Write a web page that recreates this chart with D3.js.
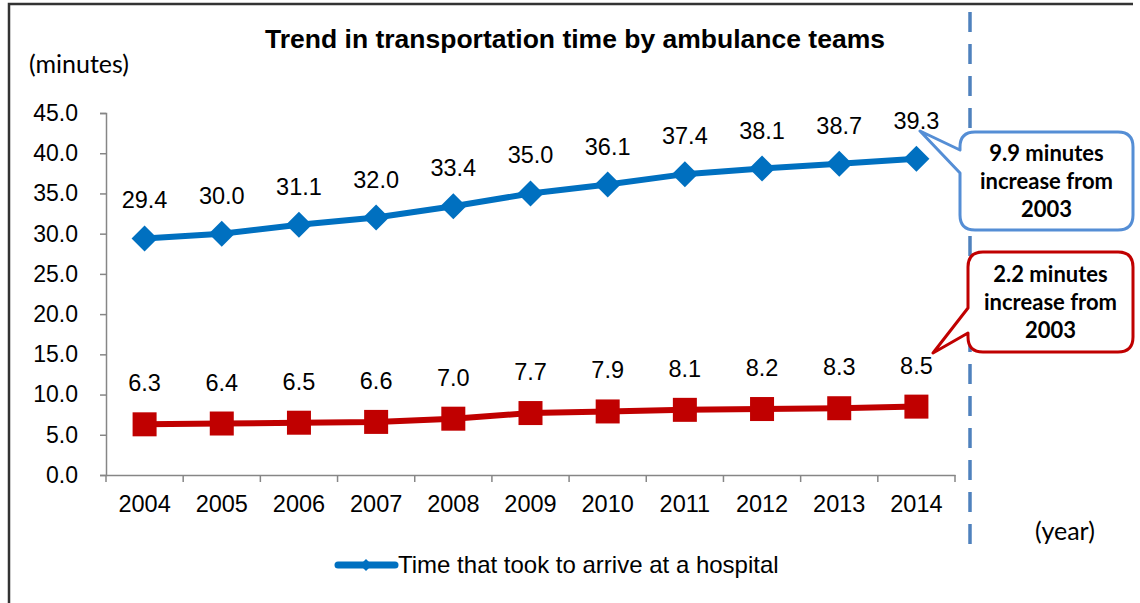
<!DOCTYPE html>
<html><head><meta charset="utf-8">
<script src="https://cdn.jsdelivr.net/npm/d3@7"></script>
<style>body{margin:0;background:#fff}svg{display:block}</style>
</head><body>
<svg id="c" width="1140" height="603"></svg>
<script>
const years = ["2004","2005","2006","2007","2008","2009","2010","2011","2012","2013","2014"];
const hospitalTime = [29.4,30.0,31.1,32.0,33.4,35.0,36.1,37.4,38.1,38.7,39.3];
const sceneTime = [6.3,6.4,6.5,6.6,7.0,7.7,7.9,8.1,8.2,8.3,8.5];
const yTicks = [0,5,10,15,20,25,30,35,40,45];
const seriesNames = ["Time that took to arrive at a hospital","Time that took to arrive at the scene"];
const calloutBlue = ["9.9 minutes","increase from","2003"];
const calloutRed = ["2.2 minutes","increase from","2003"];

const svg = d3.select("#c");
const ARIAL = "'Liberation Sans', Arial, sans-serif";
const CAL = "Lato, 'Open Sans', sans-serif";
const x = d3.scaleBand().domain(years).range([106, 955]);
const y = d3.scaleLinear().domain([0,45]).range([475,113]);

// frame
svg.append("path").attr("d","M9,603V4H1133").attr("fill","none").attr("stroke","#333").attr("stroke-width",2.5);

// title
svg.append("text").attr("x",575).attr("y",48).attr("text-anchor","middle")
  .attr("font-family",ARIAL).attr("font-weight","bold").attr("font-size",26.5).text("Trend in transportation time by ambulance teams");
svg.append("text").attr("x",29).attr("y",73).attr("font-family",CAL).attr("font-size",25).text("(minutes)");
svg.append("text").attr("x",1035).attr("y",540).attr("font-family",CAL).attr("font-size",25).text("(year)");

// y axis
const ya = svg.append("g").attr("transform","translate(106,0)")
  .call(d3.axisLeft(y).tickValues(yTicks).tickSize(6).tickPadding(22).tickFormat(d=>d.toFixed(1)));
ya.select(".domain").attr("stroke","#868686").attr("stroke-width",1.5);
ya.selectAll(".tick line").attr("stroke","#868686").attr("stroke-width",1.5);
ya.selectAll("text").attr("font-family",ARIAL).attr("font-size",23).attr("fill","#000");

// x axis
const xa = svg.append("g").attr("transform","translate(0,475)")
  .call(d3.axisBottom(x).tickSize(0).tickPadding(20));
xa.select(".domain").attr("stroke","#868686").attr("stroke-width",1.5);
xa.selectAll("text").attr("font-family",ARIAL).attr("font-size",23.5).attr("fill","#000");
const bounds = years.map(d=>x(d)).concat([x.range()[1]]);
xa.selectAll(".bt").data(bounds).join("line").attr("class","bt")
  .attr("x1",d=>d).attr("x2",d=>d).attr("y1",0).attr("y2",7).attr("stroke","#868686").attr("stroke-width",1.5);

// dashed divider
svg.append("line").attr("x1",970).attr("x2",970).attr("y1",12).attr("y2",550)
  .attr("stroke","#4F81BD").attr("stroke-width",3.5).attr("stroke-dasharray","20,12");

const cx = d => x(d) + x.bandwidth()/2;
const line = d3.line().x((d,i)=>cx(years[i])).y(d=>y(d));

// blue series
svg.append("path").datum(hospitalTime).attr("d",line).attr("fill","none")
  .attr("stroke","#0070C0").attr("stroke-width",6).attr("stroke-linejoin","round");
const dia = r => `M0,${-r}L${r},0L0,${r}L${-r},0Z`;
svg.selectAll(".bm").data(hospitalTime).join("path").attr("class","bm")
  .attr("transform",(d,i)=>`translate(${cx(years[i])},${y(d)})`).attr("d",dia(13)).attr("fill","#0070C0");
svg.selectAll(".bl").data(hospitalTime).join("text").attr("class","bl")
  .attr("x",(d,i)=>cx(years[i])).attr("y",d=>y(d)-30).attr("text-anchor","middle")
  .attr("font-family",ARIAL).attr("font-size",23.5).text(d=>d.toFixed(1));

// red series
svg.append("path").datum(sceneTime).attr("d",line).attr("fill","none")
  .attr("stroke","#C00000").attr("stroke-width",6);
svg.selectAll(".rm").data(sceneTime).join("rect").attr("class","rm")
  .attr("x",(d,i)=>cx(years[i])-12).attr("y",d=>y(d)-12).attr("width",24).attr("height",24).attr("fill","#C00000");
svg.selectAll(".rl").data(sceneTime).join("text").attr("class","rl")
  .attr("x",(d,i)=>cx(years[i])).attr("y",d=>y(d)-33).attr("text-anchor","middle")
  .attr("font-family",ARIAL).attr("font-size",23.5).text(d=>d.toFixed(1));

// callouts
function callout(x0,y0,x1,y1,r,tip,j1,j2,color,lines){
  const p = `M${x0+r},${y0}H${x1-r}Q${x1},${y0} ${x1},${y0+r}V${y1-r}Q${x1},${y1} ${x1-r},${y1}H${x0+r}Q${x0},${y1} ${x0},${y1-r}V${j2}L${tip[0]},${tip[1]}L${x0},${j1}V${y0+r}Q${x0},${y0} ${x0+r},${y0}Z`;
  svg.append("path").attr("d",p).attr("fill","#fff").attr("stroke",color).attr("stroke-width",3).attr("stroke-linejoin","round");
  const mx=(x0+x1)/2, my=(y0+y1)/2;
  lines.forEach((t,i)=>svg.append("text").attr("x",mx).attr("y",my+(i-1)*28+8).attr("text-anchor","middle")
    .attr("font-family",CAL).attr("font-weight","bold").attr("font-size",22).text(t));
}
callout(960,132,1133,230,15,[920,131],150,173,"#558ED5",calloutBlue);
callout(968,252,1133,352,15,[933,353],308,333,"#C00000",calloutRed);

// legend
svg.append("line").attr("x1",338).attr("x2",395).attr("y1",565).attr("y2",565)
  .attr("stroke","#0070C0").attr("stroke-width",7).attr("stroke-linecap","round");
svg.append("path").attr("transform","translate(366,565)").attr("d",dia(6)).attr("fill","#0070C0");
svg.append("text").attr("x",398).attr("y",573).attr("font-family",ARIAL).attr("font-size",24).text(seriesNames[0]);
</script>
</body></html>
